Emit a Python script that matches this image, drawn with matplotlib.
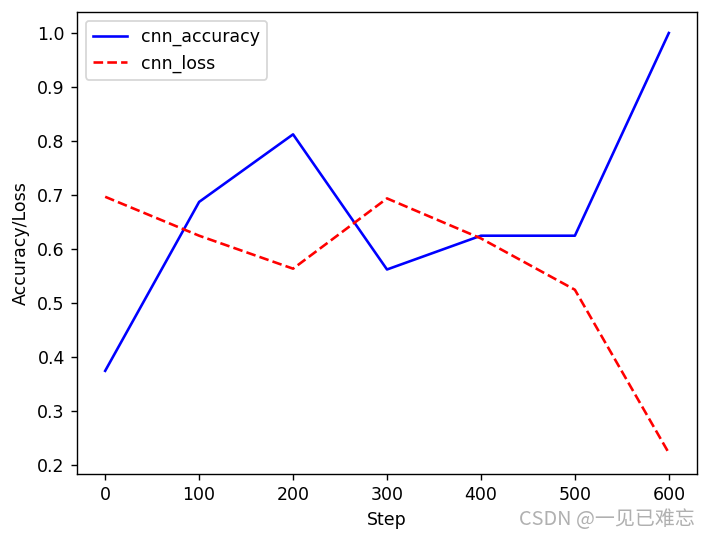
import matplotlib
matplotlib.use('Agg')
import matplotlib.pyplot as plt

steps = [0, 100, 200, 300, 400, 500, 600]
cnn_accuracy = [0.375, 0.6875, 0.8125, 0.5625, 0.625, 0.625, 1.0]
cnn_loss = [0.697, 0.625, 0.564, 0.694, 0.62, 0.525, 0.223]

# 708x540 px at 125 dpi -> default styling comes out at the reference's scale
fig = plt.figure(figsize=(708 / 125, 540 / 125), dpi=125)
ax = fig.add_axes([77 / 708, 66 / 540, 620 / 708, 462 / 540])

ax.plot(steps, cnn_accuracy, 'b-', label='cnn_accuracy')
ax.plot(steps, cnn_loss, 'r--', label='cnn_loss')
ax.set_xlabel('Step')
ax.set_ylabel('Accuracy/Loss')
ax.legend(loc='upper left')

# watermark
fig.text(0.982, 0.018, 'CSDN @一见已难忘', ha='right', va='bottom', fontsize=11.5,
         color='#b0b0b0', family=['Noto Sans CJK SC', 'DejaVu Sans'])

fig.savefig('out.png', dpi=125)
plt.close(fig)
